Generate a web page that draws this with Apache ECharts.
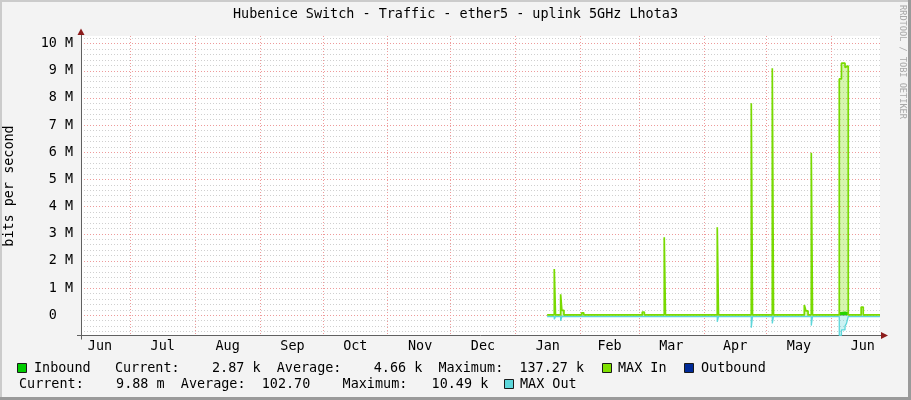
<!DOCTYPE html>
<html>
<head>
<meta charset="utf-8">
<script src="https://cdn.jsdelivr.net/npm/echarts@6.0.0/dist/echarts.min.js"></script>
<style>
html,body{margin:0;padding:0;background:#F3F3F3;}
#chart{width:911px;height:400px;}
</style>
</head>
<body>
<div id="chart"></div>
<script>
// ---------------- data ----------------
const titleText = 'Hubenice Switch - Traffic - ether5 - uplink 5GHz Lhota3';
const yAxisTitle = 'bits per second';
const watermarkText = 'RRDTOOL / TOBI OETIKER';

const axisStart = '2018-06-07T11:00';
const axisEnd = '2019-06-24T05:00';

const monthStarts = ['2018-07-01T00:00','2018-08-01T00:00','2018-09-01T00:00','2018-10-01T00:00',
  '2018-11-01T00:00','2018-12-01T00:00','2019-01-01T00:00','2019-02-01T00:00','2019-03-01T00:00',
  '2019-04-01T00:00','2019-05-01T00:00','2019-06-01T00:00'];
const monthLabelDates = ['2018-06-16T12:00','2018-07-16T12:00','2018-08-16T12:00','2018-09-16T12:00',
  '2018-10-16T12:00','2018-11-16T12:00','2018-12-16T12:00','2019-01-16T12:00','2019-02-15T00:00',
  '2019-03-16T12:00','2019-04-16T00:00','2019-05-16T12:00','2019-06-16T00:00'];
const monthLabels = ['Jun','Jul','Aug','Sep','Oct','Nov','Dec','Jan','Feb','Mar','Apr','May','Jun'];

const yTickValues = [0,1000000,2000000,3000000,4000000,5000000,6000000,7000000,8000000,9000000,10000000];
const yTickLabels = ['0  ','1 M','2 M','3 M','4 M','5 M','6 M','7 M','8 M','9 M','10 M'];
const yMin = -745000;
const yMax = 10280000;

const times = [
  '2019-01-16T04:00','2019-01-19T14:00','2019-01-20T04:00','2019-01-22T15:00','2019-01-23T05:00',
  '2019-01-24T05:00','2019-02-01T16:00','2019-02-02T16:00','2019-03-02T15:00','2019-03-03T15:00',
  '2019-03-13T03:00','2019-03-13T17:00','2019-04-07T11:00','2019-04-08T01:00','2019-04-23T17:00',
  '2019-04-24T07:00','2019-05-03T18:00','2019-05-04T08:00','2019-05-19T01:00','2019-05-19T20:00',
  '2019-05-20T20:00','2019-05-22T09:00','2019-05-22T23:00','2019-06-04T18:00','2019-06-05T19:00',
  '2019-06-07T12:00','2019-06-08T05:00','2019-06-09T01:00','2019-06-15T05:00','2019-06-16T05:00',
  '2019-06-24T05:00'];

// bits per second
const inbound = [3000,24000,3000,15000,6000,3000,3500,3000,4000,3000,
  38000,3000,42000,3000,96000,3000,110000,3000,9000,5000,
  3000,70000,3000,120000,137270,118000,112000,3000,7000,3000,2870];
const maxIn = [12000,1700000,12000,770000,180000,12000,90000,12000,120000,12000,
  2870000,12000,3240000,12000,7800000,12000,9090000,12000,380000,160000,
  12000,5980000,12000,8700000,9280000,9120000,9180000,12000,300000,12000,12000];
const outbound = [90,600,90,800,120,90,90,90,100,90,
  400,90,1500,90,3200,90,2600,90,300,120,
  90,2400,90,10490,7600,5100,3900,90,150,90,0.00988];
const maxOut = [45000,150000,45000,200000,45000,45000,45000,45000,45000,45000,
  70000,45000,240000,45000,460000,45000,300000,45000,70000,45000,
  45000,380000,45000,740000,540000,400000,300000,45000,45000,45000,45000];

const seriesNames = ['Inbound','MAX In','Outbound','MAX Out'];
const seriesColors = ['#00CC00','#7FE000','#002A97','#5CD6DA'];

const inboundValues = ['2.87','4.66','137.27'];
const inboundUnits = ['k','k','k'];
const outboundValues = ['9.88','102.70','10.49'];
const outboundUnits = ['m',' ','k'];

// ---------------- build ----------------
const ts = s => new Date(s).getTime();
const labelTs = monthLabelDates.map(ts);
const FONT = 'DejaVu Sans Mono';
const FS = 13.45;

const yMinor = [];
for (let v = -600000; v <= 10200000; v += 200000) yMinor.push(v);

const pairs = (arr, sign) => times.map((t, i) => [ts(t), sign * arr[i]]);

const stat = (v, u) => v.padStart(8) + ' ' + u;
const row1 = 'Inbound   Current:' + stat(inboundValues[0], inboundUnits[0]) +
  '  Average:' + stat(inboundValues[1], inboundUnits[1]) +
  '  Maximum:' + stat(inboundValues[2], inboundUnits[2]);
const row2 = 'Current:' + stat(outboundValues[0], outboundUnits[0]) +
  '  Average:' + stat(outboundValues[1], outboundUnits[1]) +
  '  Maximum:' + stat(outboundValues[2], outboundUnits[2]);

const txt = (text, x, y) => ({
  type: 'text', x: x, y: y, silent: true,
  style: { text: text, fill: '#000', font: FS + 'px "' + FONT + '"', align: 'left', verticalAlign: 'middle' }
});
const swatch = (x, y, color) => ({
  type: 'rect', silent: true, shape: { x: x + 0.5, y: y + 0.5, width: 9, height: 9 },
  style: { fill: color, stroke: '#1a1a1a', lineWidth: 1 }
});
const seg = (x1, y1, x2, y2, color) => ({
  type: 'line', silent: true, shape: { x1: x1, y1: y1, x2: x2, y2: y2 },
  style: { stroke: color, lineWidth: 1 }
});

const graphics = [
  // frame
  { type: 'rect', silent: true, shape: { x: 0, y: 0, width: 911, height: 2 }, style: { fill: '#CBCBCB' } },
  { type: 'rect', silent: true, shape: { x: 0, y: 0, width: 2, height: 400 }, style: { fill: '#CBCBCB' } },
  { type: 'rect', silent: true, shape: { x: 908, y: 0, width: 3, height: 400 }, style: { fill: '#9A9A9A' } },
  { type: 'rect', silent: true, shape: { x: 0, y: 397, width: 911, height: 3 }, style: { fill: '#9A9A9A' } },
  // title
  { type: 'text', silent: true, x: 455.5, y: 14.5,
    style: { text: titleText, fill: '#000', font: FS + 'px "' + FONT + '"', align: 'center', verticalAlign: 'middle' } },
  // y axis title
  { type: 'text', silent: true, x: 10, y: 186, rotation: Math.PI / 2,
    style: { text: yAxisTitle, fill: '#000', font: FS + 'px "' + FONT + '"', align: 'center', verticalAlign: 'middle' } },
  // watermark
  { type: 'text', silent: true, x: 902.5, y: 62, rotation: -Math.PI / 2,
    style: { text: watermarkText, fill: '#A8A8A8', font: '8.6px "' + FONT + '"', align: 'center', verticalAlign: 'middle' } },
  // axis overhangs and arrows
  seg(81.5, 335, 81.5, 339.5, '#606060'),
  seg(77, 335.5, 81, 335.5, '#606060'),
  seg(81.5, 35, 81.5, 36.5, '#606060'),
  seg(880, 335.5, 882, 335.5, '#606060'),
  { type: 'polygon', silent: true, shape: { points: [[77.5, 35], [84.5, 35], [81, 28.5]] }, style: { fill: '#8C1C1C' } },
  { type: 'polygon', silent: true, shape: { points: [[881, 332], [881, 339], [888, 335.5]] }, style: { fill: '#8C1C1C' } },
  // legend
  swatch(17, 363, seriesColors[0]),
  txt(row1, 34, 368.5),
  swatch(602, 363, seriesColors[1]),
  txt(seriesNames[1], 618, 368.5),
  swatch(684, 363, seriesColors[2]),
  txt(seriesNames[2], 701, 368.5),
  txt(row2, 19, 384.5),
  swatch(504, 379, seriesColors[3]),
  txt(seriesNames[3], 520, 384.5)
];

const chart = echarts.init(document.getElementById('chart'), null, { renderer: 'canvas' });
chart.setOption({
  animation: false,
  backgroundColor: '#F3F3F3',
  grid: { left: 81, right: 31, top: 36, bottom: 64.5, show: true, backgroundColor: '#FFFFFF',
    borderWidth: 0, containLabel: false, outerBoundsMode: 'none' },
  xAxis: {
    type: 'value', min: ts(axisStart), max: ts(axisEnd), scale: true,
    axisLine: { show: true, onZero: false, lineStyle: { color: '#606060', width: 1 } },
    axisTick: { show: false, customValues: monthStarts.map(ts) },
    axisLabel: {
      show: true, customValues: labelTs, color: '#000', fontFamily: FONT, fontSize: FS, margin: 5,
      hideOverlap: false, showMinLabel: true, showMaxLabel: true,
      formatter: function (v) {
        let best = 0, bd = Infinity;
        labelTs.forEach((t, i) => { const d = Math.abs(t - v); if (d < bd) { bd = d; best = i; } });
        return monthLabels[best];
      }
    },
    splitLine: { show: true, lineStyle: { color: '#EE9A9A', width: 1, type: [1, 2] } }
  },
  yAxis: [
    {
      type: 'value', min: yMin, max: yMax, position: 'left',
      axisLine: { show: true, onZero: false, lineStyle: { color: '#606060', width: 1 } },
      axisTick: { show: false, customValues: yMinor },
      axisLabel: { show: false },
      splitLine: { show: true, lineStyle: { color: '#CFCFCF', width: 1, type: [1, 2] } }
    },
    {
      type: 'value', min: yMin, max: yMax, position: 'left',
      axisLine: { show: false },
      axisTick: { show: false, customValues: yTickValues },
      axisLabel: {
        show: true, customValues: yTickValues, color: '#000', fontFamily: FONT, fontSize: FS, margin: 8,
        formatter: function (v) {
          const i = yTickValues.indexOf(v);
          return i >= 0 ? yTickLabels[i] : '';
        }
      },
      splitLine: { show: true, lineStyle: { color: '#EE9A9A', width: 1, type: [1, 2] } }
    }
  ],
  series: [
    { name: seriesNames[0], type: 'line', step: 'end', yAxisIndex: 0, symbol: 'none', silent: true,
      data: pairs(inbound, 1), lineStyle: { width: 1, opacity: 0, color: seriesColors[0] },
      areaStyle: { color: seriesColors[0], opacity: 1 }, z: 2 },
    { name: seriesNames[2], type: 'line', step: 'end', yAxisIndex: 0, symbol: 'none', silent: true,
      data: pairs(outbound, -1), lineStyle: { width: 1, opacity: 0, color: seriesColors[2] },
      areaStyle: { color: seriesColors[2], opacity: 1 }, z: 2 },
    { name: seriesNames[3], type: 'line', step: 'end', yAxisIndex: 0, symbol: 'none', silent: true,
      data: pairs(maxOut, -1), lineStyle: { width: 1.3, color: seriesColors[3] },
      areaStyle: { color: 'rgba(92,214,218,0.45)' }, z: 3 },
    { name: seriesNames[1], type: 'line', step: 'end', yAxisIndex: 0, symbol: 'none', silent: true,
      data: pairs(maxIn, 1), lineStyle: { width: 1.7, color: '#78DA00' },
      areaStyle: { color: 'rgba(127,224,0,0.45)' }, z: 4 }
  ],
  graphic: graphics
});
</script>
</body>
</html>
